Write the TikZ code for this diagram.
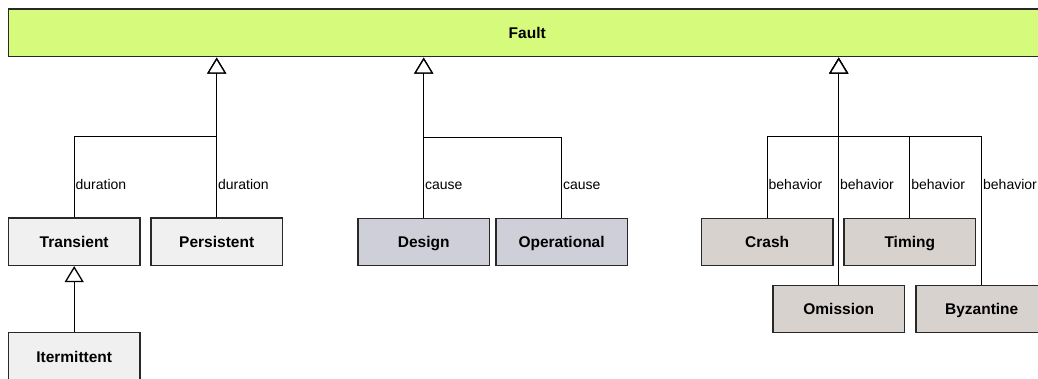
\documentclass[tikz,border=0pt]{standalone}
\usepackage{fontspec}
\setmainfont{Liberation Sans}
\usetikzlibrary{arrows.meta}
\definecolor{faultfill}{RGB}{214,250,124}
\definecolor{durfill}{RGB}{240,240,240}
\definecolor{causefill}{RGB}{207,207,218}
\definecolor{behfill}{RGB}{216,210,207}
\definecolor{boxline}{RGB}{40,40,40}
\begin{document}
\begin{tikzpicture}[x=1pt,y=-1pt,
  box/.style={draw=boxline, line width=1.3pt, minimum width=131.5pt,
    minimum height=47.5pt, inner sep=0pt, text height=11.2pt, text depth=0pt,
    font=\fontsize{15.5}{18}\selectfont\bfseries},
  gen/.style={draw=black, line width=1.3pt,
    -{Triangle[width=19pt,length=16pt,fill=white,line width=1.3pt]}},
  lbl/.style={anchor=west, inner sep=0.8pt, text height=10pt, text depth=0pt,
    font=\fontsize{14}{16}\selectfont}]
\useasboundingbox (0,0) rectangle (1038,379);
\clip (0,0) rectangle (1038,379);

% root class
\node[box, fill=faultfill, minimum width=1037.7pt] (fault) at (527.2,32.9) {Fault};

% duration branch
\node[box, fill=durfill] (tr) at (74.2,241.7) {Transient};
\node[box, fill=durfill] (pe) at (216.7,241.7) {Persistent};
\node[box, fill=durfill] (it) at (74.2,356.5) {Itermittent};

% cause branch
\node[box, fill=causefill] (de) at (423.7,242) {Design};
\node[box, fill=causefill] (op) at (561.6,242) {Operational};

% behavior branch
\node[box, fill=behfill] (cr) at (767.2,242) {Crash};
\node[box, fill=behfill] (ti) at (909.8,242) {Timing};
\node[box, fill=behfill] (om) at (838.7,309) {Omission};
\node[box, fill=behfill] (by) at (981.7,309) {Byzantine};

% attachment points on the root and junctions of the generalisation trees
\coordinate (fL) at (216.7,57.6);
\coordinate (fM) at (423.7,57.6);
\coordinate (fR) at (838.7,57.6);
\coordinate (jL) at (216.7,136.7);
\coordinate (jM) at (423.7,137.7);
\coordinate (jR) at (838.7,136.7);
\coordinate (lblrow) at (0,184.5);

% generalisations
\draw[gen] (tr.north) -- (tr.north |- lblrow) node[lbl]{duration} |- (jL) -- (fL);
\draw[gen] (pe.north) -- (pe.north |- lblrow) node[lbl]{duration} -- (fL);

\draw[gen] (de.north) -- (de.north |- lblrow) node[lbl]{cause} -- (fM);
\draw[gen] (op.north) -- (op.north |- lblrow) node[lbl]{cause} |- (jM) -- (fM);

\draw[gen] (cr.north) -- (cr.north |- lblrow) node[lbl]{behavior} |- (jR) -- (fR);
\draw[gen] (om.north) -- (om.north |- lblrow) node[lbl]{behavior} -- (fR);
\draw[gen] (ti.north) -- (ti.north |- lblrow) node[lbl]{behavior} |- (jR) -- (fR);
\draw[gen] (by.north) -- (by.north |- lblrow) node[lbl]{behavior} |- (jR) -- (fR);

\draw[gen] (it.north) -- (tr.south);
\end{tikzpicture}
\end{document}
